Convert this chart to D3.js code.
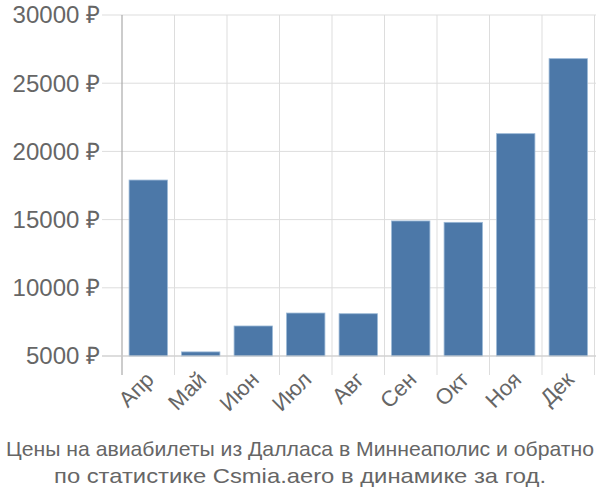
<!DOCTYPE html>
<html><head><meta charset="utf-8">
<script src="https://cdn.jsdelivr.net/npm/d3@7"></script>
<style>body{margin:0;background:#fff;} text{font-family:"Liberation Sans",Arial,sans-serif;fill:#666;}</style>
</head><body><svg id="c" width="600" height="500"></svg>
<script>
const months = ["Апр","Май","Июн","Июл","Авг","Сен","Окт","Ноя","Дек"];
const prices = [17900, 5300, 7200, 8150, 8100, 14900, 14800, 21300, 26800];
const yTicks = [5000, 10000, 15000, 20000, 25000, 30000];
const titleLines = ["Цены на авиабилеты из Далласа в Миннеаполис и обратно","по статистике Csmia.aero в динамике за год."];
const titleWidths = [588, 492];

(function(){
const svg = d3.select("#c");
const pl = 122, pr = 594.5, pt = 15, pb = 356;
const x = d3.scaleBand().domain(months).range([pl, pr]).paddingInner(0.27).paddingOuter(0.135);
const xg = d3.scaleBand().domain(months).range([pl, pr]);
const y = d3.scaleLinear().domain([5000, 30000]).range([pb, pt]);

svg.append("g").selectAll("line").data(yTicks).join("line")
  .attr("x1", 102).attr("x2", 596).attr("y1", d=>y(d)).attr("y2", d=>y(d))
  .attr("stroke", "#ddd").attr("stroke-width", 1);
svg.append("g").selectAll("line").data(months.slice(1).map(m=>xg(m)).concat([pr])).join("line")
  .attr("x1", d=>d).attr("x2", d=>d).attr("y1", pt).attr("y2", 375)
  .attr("stroke", "#ddd").attr("stroke-width", 1);
svg.append("line").attr("x1", pl).attr("x2", pl).attr("y1", pt).attr("y2", 375)
  .attr("stroke", "#aaa").attr("stroke-width", 1.2);

svg.append("g").selectAll("rect").data(prices).join("rect")
  .attr("x", (d,i)=>x(months[i])).attr("width", x.bandwidth())
  .attr("y", d=>y(d)).attr("height", d=>pb - y(d))
  .attr("fill", "#4c78a8").attr("stroke", "#9ab8d6").attr("stroke-width", 0.8);

svg.append("line").attr("x1", 102).attr("x2", 596).attr("y1", pb).attr("y2", pb)
  .attr("stroke", "#ccc").attr("stroke-width", 1);

svg.append("g").selectAll("text").data(yTicks).join("text")
  .attr("x", 100).attr("y", d=>y(d)).attr("dy", "0.35em").attr("text-anchor", "end")
  .style("font-size", "24px").text(d=>d + " ₽");

svg.append("g").selectAll("text").data(months).join("text")
  .attr("transform", d=>`translate(${xg(d)+xg.bandwidth()/2+7},${381}) rotate(-45)`)
  .attr("text-anchor", "end").style("font-size", "22px").text(d=>d);

svg.append("g").selectAll("text").data(titleLines).join("text")
  .attr("x", 300).attr("y", (d,i)=>456 + i*27).attr("text-anchor", "middle")
  .attr("textLength", (d,i)=>titleWidths[i]).attr("lengthAdjust", "spacingAndGlyphs")
  .style("font-size", "21px").text(d=>d);
})();
</script></body></html>
